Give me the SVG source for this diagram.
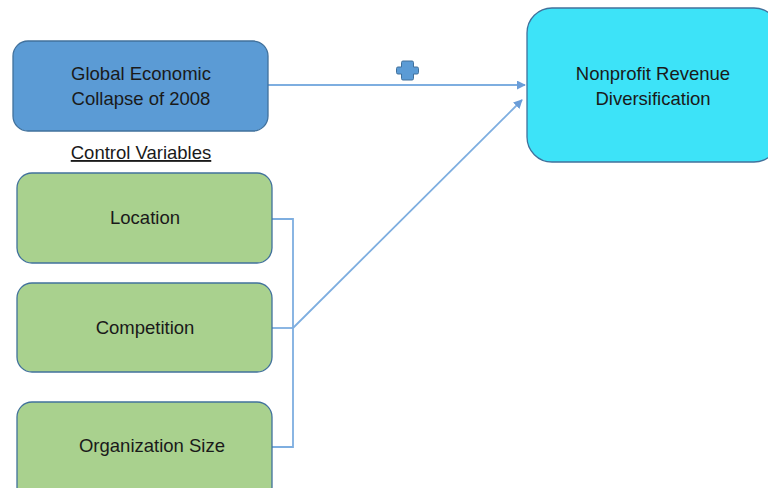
<svg xmlns="http://www.w3.org/2000/svg" width="768" height="488" viewBox="0 0 768 488">
<style>
text{font-family:"Liberation Sans","Open Sans",sans-serif;font-size:18.5px;fill:#1a1a1a;text-anchor:middle}
.blue{fill:#5B9BD5;stroke:#41719C;stroke-width:1.3}
.cyan{fill:#3DE3F8;stroke:#41719C;stroke-width:1.3}
.green{fill:#A9D18E;stroke:#41719C;stroke-width:1.3}
.conn{fill:none;stroke:#7EAEE0;stroke-width:1.8}
</style>
<defs>
<marker id="ah" viewBox="0 0 10 10" refX="9" refY="5" markerWidth="5" markerHeight="5" orient="auto">
<path d="M0,0 L10,5 L0,10 z" fill="#6A9DD8"/>
</marker>
</defs>
<rect width="768" height="488" fill="#ffffff"/>
<g id="connectors">
<line class="conn" x1="268" y1="85" x2="525" y2="85" marker-end="url(#ah)"/>
<polyline class="conn" points="272,219 293,219 293,447 272,447"/>
<line class="conn" x1="272" y1="328" x2="293" y2="328"/>
<line class="conn" x1="293" y1="328" x2="522" y2="100" marker-end="url(#ah)"/>
<path d="M403,61 h9 a1.5,1.5 0 0 1 1.5,1.5 v4.5 h3.5 a1.5,1.5 0 0 1 1.5,1.5 v4 a1.5,1.5 0 0 1 -1.5,1.5 h-3.5 v4.5 a1.5,1.5 0 0 1 -1.5,1.5 h-9 a1.5,1.5 0 0 1 -1.5,-1.5 v-4.5 h-3.5 a1.5,1.5 0 0 1 -1.5,-1.5 v-4 a1.5,1.5 0 0 1 1.5,-1.5 h3.5 v-4.5 a1.5,1.5 0 0 1 1.5,-1.5 z" fill="#5B9BD5" stroke="#41719C" stroke-width="1"/>
</g>
<g id="global">
<rect class="blue" x="13" y="41" width="255" height="90" rx="15"/>
<text x="141" y="80">Global Economic</text>
<text x="141" y="105">Collapse of 2008</text>
</g>
<g id="nonprofit">
<rect class="cyan" x="527" y="8" width="252" height="154" rx="25"/>
<text x="653" y="80">Nonprofit Revenue</text>
<text x="653" y="105">Diversification</text>
</g>
<g id="control-label">
<text x="141" y="159" text-decoration="underline">Control Variables</text>
</g>
<g id="location">
<rect class="green" x="17" y="173" width="255" height="90" rx="15"/>
<text x="145" y="224">Location</text>
</g>
<g id="competition">
<rect class="green" x="17" y="283" width="255" height="89" rx="15"/>
<text x="145" y="334">Competition</text>
</g>
<g id="orgsize">
<rect class="green" x="17" y="402" width="255" height="100" rx="15"/>
<text x="152" y="452">Organization Size</text>
</g>
</svg>
